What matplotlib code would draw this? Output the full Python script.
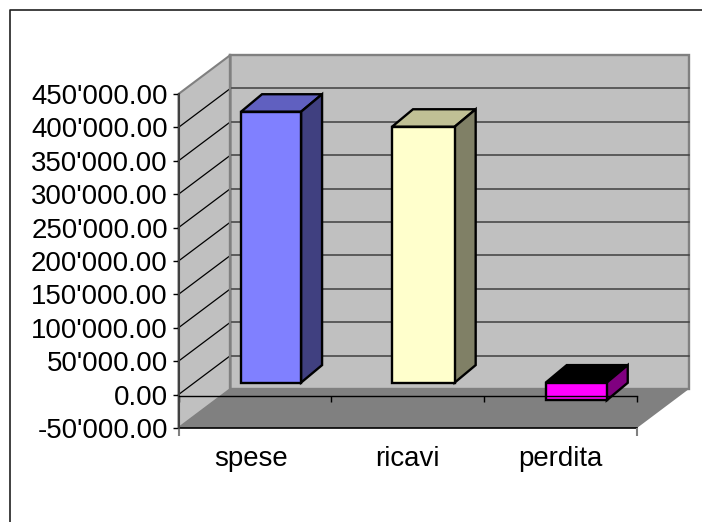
import matplotlib
matplotlib.use('Agg')
from matplotlib import pyplot as plt
from matplotlib.patches import Polygon
from matplotlib.transforms import ScaledTranslation

plt.rcParams['font.family'] = ['Liberation Sans', 'DejaVu Sans']

categories = ['spese', 'ricavi', 'perdita']
values = [405500, 383000, -26500]
y_ticks = [-50000, 0, 50000, 100000, 150000, 200000, 250000, 300000, 350000, 400000, 450000]

front_colors = ['#8080FF', '#FFFFCC', '#FF00FF']
top_colors = ['#6060C0', '#C0C095', '#000000']
side_colors = ['#404080', '#808066', '#800080']

W, H = 702, 522
# front plane of the box in pixels
LEFT, RIGHT, TOP, BOTTOM = 178.5, 637, 94, 428

# depth of the box and of the bars, in axis units
WALL_DX, WALL_DY = 0.34, 58400
BAR_DX, BAR_DY = 0.1374, 26200
GAP_DY = 17960
BAR_X0 = [0.409, 0.397, 0.403]
BAR_W = [0.393, 0.41, 0.399]
ZERO_Y = -1500


def fmt_value(v):
    return "{:,.2f}".format(v).replace(',', "'")


def add_poly(ax, pts, color, edge='none', lw=0, z=1):
    ax.add_patch(Polygon(pts, closed=True, facecolor=color, edgecolor=edge,
                         linewidth=lw, zorder=z, clip_on=False, joinstyle='miter'))


def draw_box(ax):
    ymin, ymax = y_ticks[0], y_ticks[-1]
    nx = len(categories)
    # pareti e pavimento
    add_poly(ax, [(WALL_DX, ymin + WALL_DY), (nx + WALL_DX, ymin + WALL_DY),
                  (nx + WALL_DX, ymax + WALL_DY), (WALL_DX, ymax + WALL_DY)],
             '#C0C0C0', '#808080', 1.7)
    add_poly(ax, [(0, ymin), (0, ymax), (WALL_DX, ymax + WALL_DY), (WALL_DX, ymin + WALL_DY)],
             '#C0C0C0', '#808080', 1.5)
    add_poly(ax, [(0, ymin), (nx, ymin), (nx + WALL_DX, ymin + WALL_DY), (WALL_DX, ymin + WALL_DY)],
             '#808080', z=2)
    # griglia
    for t in y_ticks[1:-1]:
        ax.plot([0, WALL_DX], [t, t + WALL_DY], color='black', lw=0.9, zorder=3, clip_on=False)
        ax.plot([WALL_DX, nx + WALL_DX], [t + WALL_DY, t + WALL_DY], color='#404040',
                lw=1.1, zorder=3, clip_on=False)
    ax.plot([WALL_DX, WALL_DX], [ymin + WALL_DY, ymax + WALL_DY], color='#808080', lw=1.7, zorder=3, clip_on=False)
    # asse dello zero con le tacche, passa sopra la barra negativa
    ax.plot([0, nx], [ZERO_Y, ZERO_Y], color='black', lw=1, zorder=7, clip_on=False)
    ax.vlines(range(nx + 1), ZERO_Y - 9000, ZERO_Y, color='black', lw=1, zorder=4, clip_on=False)
    # bordo davanti
    ax.plot([0, nx], [ymin, ymin], color='black', lw=1.2, zorder=4, clip_on=False)
    ax.vlines([0, nx], ymin - 12000, ymin, color='#808080', lw=1.5, zorder=4, clip_on=False)


def draw_bar(ax, i, value):
    x0 = i + BAR_X0[i]
    x1 = x0 + BAR_W[i]
    y0 = GAP_DY
    y1 = value + GAP_DY
    hi = max(y0, y1)
    lo = min(y0, y1)
    add_poly(ax, [(x0, hi), (x1, hi), (x1 + BAR_DX, hi + BAR_DY), (x0 + BAR_DX, hi + BAR_DY)],
             top_colors[i], 'black', 1.7, 5)
    add_poly(ax, [(x1, lo), (x1 + BAR_DX, lo + BAR_DY), (x1 + BAR_DX, hi + BAR_DY), (x1, hi)],
             side_colors[i], 'black', 1.7, 5)
    add_poly(ax, [(x0, lo), (x1, lo), (x1, hi), (x0, hi)], front_colors[i], 'black', 1.7, 6)


def main():
    fig = plt.figure(figsize=(W / 100, H / 100), dpi=100)

    # cornice esterna: solo sopra e a sinistra, il resto e' fuori immagine
    fig.add_artist(plt.Line2D([9.5 / W, 9.5 / W, 1], [0, 1 - 10 / H, 1 - 10 / H], transform=fig.transFigure,
                              color='#202020', lw=1.2))

    ax = fig.add_axes([LEFT / W, 1 - BOTTOM / H, (RIGHT - LEFT) / W, (BOTTOM - TOP) / H])
    ax.set_xlim(0, len(categories))
    ax.set_ylim(y_ticks[0], y_ticks[-1])
    ax.patch.set_visible(False)
    for s in ax.spines.values():
        s.set_visible(False)

    draw_box(ax)
    for i, v in enumerate(values):
        draw_bar(ax, i, v)

    ax.set_yticks(y_ticks)
    ax.set_yticklabels([fmt_value(t) for t in y_ticks], fontsize=19.9)
    ax.tick_params(axis='y', length=4.5, width=1, pad=3.2, color='black')
    ax.plot([0, 0], [y_ticks[0], y_ticks[-1]], color='#404040', lw=1.5, zorder=4, clip_on=False)

    ax.set_xticks([i + 0.5 for i in range(len(categories))])
    ax.set_xticklabels(categories, fontsize=19.9)
    ax.tick_params(axis='x', length=0, pad=13)
    # la prima etichetta sta un po' a sinistra
    lab = ax.get_xticklabels()[0]
    lab.set_transform(lab.get_transform() + ScaledTranslation(-4 / 100, 0, fig.dpi_scale_trans))

    fig.savefig('out.png', dpi=100)


if __name__ == '__main__':
    main()
